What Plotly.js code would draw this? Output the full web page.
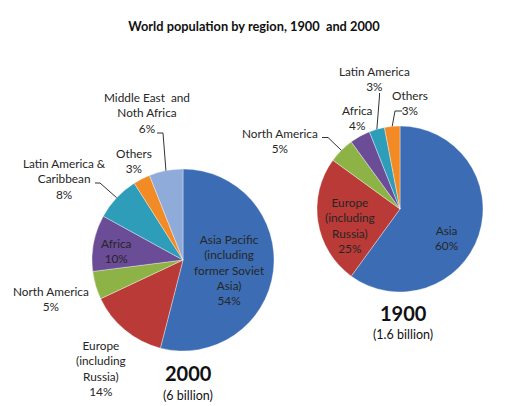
<!DOCTYPE html>
<html>
<head>
<meta charset="utf-8">
<script src="https://cdn.plot.ly/plotly-3.0.1.min.js"></script>
<style>html,body{margin:0;padding:0;background:#fff}#chart{width:513px;height:406px}</style>
</head>
<body>
<div id="chart"></div>
<script>
// ---- data ----
var regions2000 = ["Asia Pacific\n(including\nformer Soviet\nAsia)", "Europe\n(including\nRussia)", "North America", "Africa", "Latin America &\nCaribbean", "Others", "Middle East  and\nNoth Africa"];
var share2000 = [54, 14, 5, 10, 8, 3, 6];
var colors2000 = ["#3C6DB4", "#B93A36", "#8DB347", "#6A4C97", "#2E9DBA", "#F28A25", "#8FABD9"];

var regions1900 = ["Asia", "Europe\n(including\nRussia)", "North America", "Africa", "Latin America", "Others"];
var share1900 = [60, 25, 5, 4, 3, 3];
var colors1900 = ["#3C6DB4", "#B93A36", "#8DB347", "#6A4C97", "#2E9DBA", "#F28A25"];

var chartTitle = "World population by region, 1900  and 2000";
var yearLabels = ["2000", "1900"];
var totalLabels = ["(6 billion)", "(1.6 billion)"];

// ---- layout helpers (pixels -> paper) ----
var W = 513, H = 406;
function px(x) { return x / W; }
function py(y) { return 1 - y / H; }

var pie2000 = {cx: 183, cy: 260, r: 91};
var pie1900 = {cx: 400, cy: 209, r: 83};

// label centres (pixels) per slice
var pos2000 = [[229.5, 270], [100.5, 368], [51, 299], [116.5, 251], [64, 179], [133.5, 161], [147, 113.5]];
var pos1900 = [[446.5, 238], [350, 225], [280, 141.3], [357, 118.3], [374, 79.5], [409.5, 103]];

// leader lines: slice index -> polyline start points (pixels), ending at slice mid edge
var lead2000 = {6: [[157, 133], [163, 133]], 4: [[95, 183], [100, 183]]};
var lead1900 = {2: [[322, 137.5], [328, 137.5]], 4: [[379.5, 93], [379.5, 96]], 5: [[402, 111], [395, 111]]};

function midEdge(pie, shares, i) {
  var tot = shares.reduce(function (a, b) { return a + b; }, 0);
  var cum = 0;
  for (var k = 0; k < i; k++) cum += shares[k];
  var f = (cum + shares[i] / 2) / tot;
  var a = f * 2 * Math.PI;
  return [pie.cx + pie.r * Math.sin(a), pie.cy - pie.r * Math.cos(a)];
}

function domainOf(pie) {
  return {x: [px(pie.cx - pie.r), px(pie.cx + pie.r)], y: [py(pie.cy + pie.r), py(pie.cy - pie.r)]};
}

var traces = [
  {type: "pie", labels: regions2000, values: share2000, sort: false, direction: "clockwise", rotation: 0,
   marker: {colors: colors2000, line: {color: "rgba(255,255,255,0.6)", width: 0.6}},
   textinfo: "none", hoverinfo: "label+percent", domain: domainOf(pie2000), showlegend: false},
  {type: "pie", labels: regions1900, values: share1900, sort: false, direction: "clockwise", rotation: 0,
   marker: {colors: colors1900, line: {color: "rgba(255,255,255,0.6)", width: 0.6}},
   textinfo: "none", hoverinfo: "label+percent", domain: domainOf(pie1900), showlegend: false}
];

var font = "Lato, 'Open Sans', sans-serif";
var annotations = [], shapes = [];

function addLabels(regions, shares, pos, lead, pie) {
  regions.forEach(function (name, i) {
    annotations.push({
      xref: "paper", yref: "paper", x: px(pos[i][0]), y: py(pos[i][1]),
      xanchor: "center", yanchor: "middle", showarrow: false, align: "center",
      text: name.split("\n").join("<br>") + "<br>" + shares[i] + "%",
      font: {family: font, size: 11.8, color: "#262626"}
    });
    if (lead[i]) {
      var pts = lead[i].concat([midEdge(pie, shares, i)]);
      var d = pts.map(function (p, k) { return (k ? "L" : "M") + px(p[0]) + "," + py(p[1]); }).join(" ");
      shapes.push({type: "path", xref: "paper", yref: "paper", path: d, line: {color: "#333", width: 1}});
    }
  });
}
addLabels(regions2000, share2000, pos2000, lead2000, pie2000);
addLabels(regions1900, share1900, pos1900, lead1900, pie1900);

// year captions
annotations.push({xref: "paper", yref: "paper", x: px(188), y: py(373), xanchor: "center", yanchor: "middle", showarrow: false,
  text: "<b>" + yearLabels[0] + "</b>", font: {family: font, size: 20, color: "#111"}});
annotations.push({xref: "paper", yref: "paper", x: px(188), y: py(395.5), xanchor: "center", yanchor: "middle", showarrow: false,
  text: totalLabels[0], font: {family: font, size: 12.5, color: "#111"}});
annotations.push({xref: "paper", yref: "paper", x: px(403), y: py(312.5), xanchor: "center", yanchor: "middle", showarrow: false,
  text: "<b>" + yearLabels[1] + "</b>", font: {family: font, size: 20, color: "#111"}});
annotations.push({xref: "paper", yref: "paper", x: px(403), y: py(334), xanchor: "center", yanchor: "middle", showarrow: false,
  text: totalLabels[1], font: {family: font, size: 12.5, color: "#111"}});

var layout = {
  width: W, height: H,
  margin: {l: 0, r: 0, t: 0, b: 0},
  paper_bgcolor: "#fff",
  title: {text: "<b>" + chartTitle + "</b>", x: px(254), xanchor: "center", y: py(27), yanchor: "middle",
          font: {family: font, size: 12.8, color: "#111"}},
  annotations: annotations,
  shapes: shapes,
  showlegend: false
};

Plotly.newPlot("chart", traces, layout, {displayModeBar: false, staticPlot: true});
</script>
</body>
</html>
